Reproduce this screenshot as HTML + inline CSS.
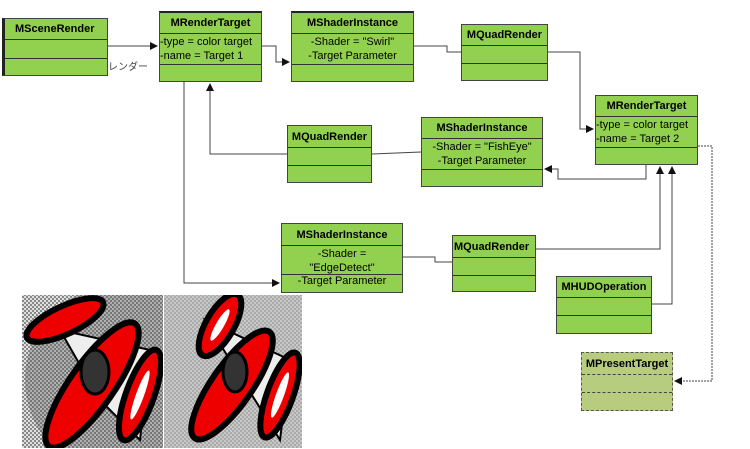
<!DOCTYPE html>
<html><head><meta charset="utf-8"><style>
html,body{margin:0;width:750px;height:449px;overflow:hidden;}
body{background:#fff;position:relative;font-family:"Liberation Sans","Noto Sans CJK JP",sans-serif;}
.b{position:absolute;background:#92d050;border:1px solid #444;box-sizing:border-box;}
.b div{box-sizing:border-box;border-top:1px solid #333;font-size:11px;line-height:14px;}
.b .h{border-top:none;font-weight:bold;text-align:center;font-size:11px;padding-top:1px;}
.p{background:#b8cc80;border:1px dashed #555;}
svg{position:absolute;left:0;top:0;display:block;}
</style></head><body>
<div class="b" style="left:2px;top:18px;width:106px;height:58px;border-left:3px solid #222"><div class="h" style="height:20px;line-height:18px;text-align:left;padding-left:10px">MSceneRender</div><div style="height:19px"></div><div style="height:17px"></div></div>
<div class="b" style="left:159px;top:11px;width:103px;height:71px;border-top:2px solid #222"><div class="h" style="height:20px;line-height:19px">MRenderTarget</div><div style="height:31px;padding-top:1px">-type = color target<br>-name = Target 1</div><div style="height:18px"></div></div>
<div class="b" style="left:291px;top:11px;width:123px;height:71px;border-top:2px solid #222"><div class="h" style="height:20px;line-height:19px">MShaderInstance</div><div style="height:31px;padding-top:1px;text-align:center">-Shader = "Swirl"<br>-Target Parameter</div><div style="height:18px"></div></div>
<div class="b" style="left:461px;top:24px;width:87px;height:57px"><div class="h" style="height:20px;line-height:19px">MQuadRender</div><div style="height:18px"></div><div style="height:17px"></div></div>
<div class="b" style="left:287px;top:125px;width:85px;height:58px"><div class="h" style="height:21px;line-height:20px">MQuadRender</div><div style="height:18px"></div><div style="height:17px"></div></div>
<div class="b" style="left:595px;top:95px;width:103px;height:70px"><div class="h" style="height:20px;line-height:19px">MRenderTarget</div><div style="height:31px;padding-top:1px">-type = color target<br>-name = Target 2</div><div style="height:17px"></div></div>
<div class="b" style="left:421px;top:117px;width:122px;height:70px"><div class="h" style="height:20px;line-height:19px">MShaderInstance</div><div style="height:31px;padding-top:1px;text-align:center">-Shader = "FishEye"<br>-Target Parameter</div><div style="height:17px"></div></div>
<div class="b" style="left:281px;top:223px;width:122px;height:70px"><div class="h" style="height:21px;line-height:20px">MShaderInstance</div><div style="height:29px;text-align:center;line-height:14px;padding-top:1px">-Shader =<br>"EdgeDetect"</div><div style="height:18px;text-align:center;line-height:13px">-Target Parameter</div></div>
<div class="b" style="left:452px;top:235px;width:84px;height:57px"><div class="h" style="height:21px;line-height:20px;text-align:left;padding-left:1px">MQuadRender</div><div style="height:18px"></div><div style="height:17px"></div></div>
<div class="b" style="left:556px;top:276px;width:96px;height:58px"><div class="h" style="height:20px;line-height:19px">MHUDOperation</div><div style="height:18px"></div><div style="height:18px"></div></div>
<div class="b p" style="left:581px;top:352px;width:92px;height:59px"><div class="h" style="height:21px;line-height:20px">MPresentTarget</div><div style="height:18px;border-top:1px dashed #444"></div><div style="height:18px;border-top:1px dashed #444"></div></div>
<div style="position:absolute;left:108px;top:62px;font-size:10px;line-height:12px;color:#444">レンダー</div>
<svg width="750" height="448" viewBox="0 0 750 448">
<defs><marker id="a" markerWidth="8" markerHeight="8" refX="7" refY="4" orient="auto" markerUnits="userSpaceOnUse"><path d="M0,0L8,4L0,8z" fill="#111"/></marker>
<clipPath id="c1"><rect x="22" y="295" width="141" height="153"/></clipPath>
<clipPath id="c2"><rect x="164" y="295" width="138" height="153"/></clipPath>
<pattern id="ck" width="4" height="4" patternUnits="userSpaceOnUse"><rect width="4" height="4" fill="#888"/><rect width="2" height="2" fill="#e0e0e0"/><rect x="2" y="2" width="2" height="2" fill="#e0e0e0"/></pattern>
<pattern id="ck2" width="4" height="4" patternUnits="userSpaceOnUse"><rect width="4" height="4" fill="#aaa"/><rect width="2" height="2" fill="#c8c8c8"/><rect x="2" y="2" width="2" height="2" fill="#c8c8c8"/></pattern></defs>
<g fill="none" stroke="#444" stroke-width="1">
<path d="M108,46H157" marker-end="url(#a)"/>
<path d="M262,46H276V62H289" marker-end="url(#a)"/>
<path d="M414,46H447V52H461"/>
<path d="M548,52H580V129H593" marker-end="url(#a)"/>
<path d="M184,82V283H279" marker-end="url(#a)"/>
<path d="M287,154H210V84" marker-end="url(#a)"/>
<path d="M372,154L421,152"/>
<path d="M646,165V179H558V169H545" marker-end="url(#a)"/>
<path d="M403,257H435V262H452"/>
<path d="M536,249H660V167" marker-end="url(#a)"/>
<path d="M652,304H672V167" marker-end="url(#a)"/>
<path d="M698,146H712V381H675" stroke-dasharray="2,1" marker-end="url(#a)"/>
</g>
<g clip-path="url(#c1)">
<rect x="22" y="295" width="141" height="153" fill="url(#ck)"/>
<circle cx="120" cy="380" r="95" fill="#555" opacity="0.35"/>
<g stroke="#000" stroke-width="6" fill="#e00">
<path d="M60,330 L150,350 L140,440 L100,400Z" fill="#eee" stroke-width="2"/>
<ellipse cx="65" cy="320" rx="42" ry="14" transform="rotate(-25 65 320)"/>
<ellipse cx="92" cy="385" rx="22" ry="75" transform="rotate(35 92 385)"/>
<ellipse cx="140" cy="395" rx="14" ry="48" transform="rotate(20 140 395)"/>
<ellipse cx="95" cy="372" rx="14" ry="22" fill="#333" stroke-width="3"/>
</g>
<ellipse cx="140" cy="395" rx="4" ry="26" fill="#fff" transform="rotate(20 140 395)"/>
</g>
<g clip-path="url(#c2)">
<rect x="164" y="295" width="138" height="153" fill="url(#ck2)"/>
<g stroke="#000" stroke-width="6" fill="#e00">
<path d="M205,320 L290,360 L280,440Z" fill="#eee" stroke-width="2"/>
<ellipse cx="220" cy="325" rx="14" ry="35" transform="rotate(30 220 325)"/>
<ellipse cx="232" cy="385" rx="20" ry="65" transform="rotate(35 232 385)"/>
<ellipse cx="280" cy="395" rx="13" ry="45" transform="rotate(20 280 395)"/>
<ellipse cx="235" cy="372" rx="12" ry="20" fill="#333" stroke-width="3"/>
</g>
<ellipse cx="280" cy="395" rx="4" ry="24" fill="#fff" transform="rotate(20 280 395)"/>
<ellipse cx="220" cy="325" rx="4" ry="18" fill="#fff" transform="rotate(30 220 325)"/>
</g>
</svg>
</body></html>
